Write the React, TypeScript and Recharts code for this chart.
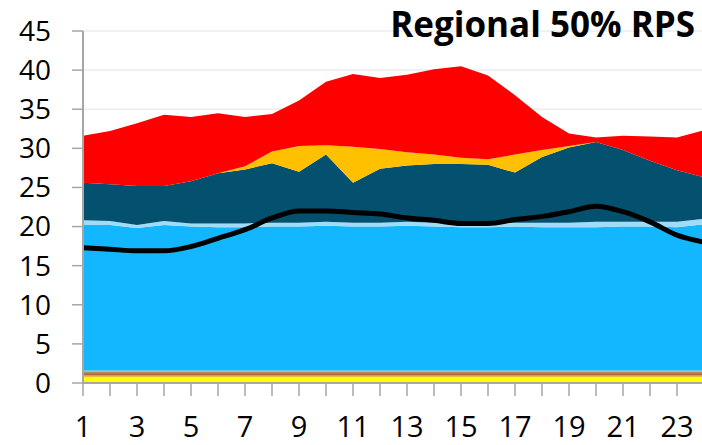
import React from 'react';
import { ComposedChart, Area, Line, XAxis, YAxis, CartesianGrid } from 'recharts';

const hours = [1, 2, 3, 4, 5, 6, 7, 8, 9, 10, 11, 12, 13, 14, 15, 16, 17, 18, 19, 20, 21, 22, 23, 24];
const xLabels = ['1', '', '3', '', '5', '', '7', '', '9', '', '11', '', '13', '', '15', '', '17', '', '19', '', '21', '', '23', ''];
const yTicks = [0, 5, 10, 15, 20, 25, 30, 35, 40, 45];

const yellowBand = [0.8, 0.8, 0.8, 0.8, 0.8, 0.8, 0.8, 0.8, 0.8, 0.8, 0.8, 0.8, 0.8, 0.8, 0.8, 0.8, 0.8, 0.8, 0.8, 0.8, 0.8, 0.8, 0.8, 0.8];
const ochreBand = [0.25, 0.25, 0.25, 0.25, 0.25, 0.25, 0.25, 0.25, 0.25, 0.25, 0.25, 0.25, 0.25, 0.25, 0.25, 0.25, 0.25, 0.25, 0.25, 0.25, 0.25, 0.25, 0.25, 0.25];
const brownBand = [0.2, 0.2, 0.2, 0.2, 0.2, 0.2, 0.2, 0.2, 0.2, 0.2, 0.2, 0.2, 0.2, 0.2, 0.2, 0.2, 0.2, 0.2, 0.2, 0.2, 0.2, 0.2, 0.2, 0.2];
const tanBand = [0.2, 0.2, 0.2, 0.2, 0.2, 0.2, 0.2, 0.2, 0.2, 0.2, 0.2, 0.2, 0.2, 0.2, 0.2, 0.2, 0.2, 0.2, 0.2, 0.2, 0.2, 0.2, 0.2, 0.2];
const greenBand = [0.15, 0.15, 0.15, 0.15, 0.15, 0.15, 0.15, 0.15, 0.15, 0.15, 0.15, 0.15, 0.15, 0.15, 0.15, 0.15, 0.15, 0.15, 0.15, 0.15, 0.15, 0.15, 0.15, 0.15];
const lightBlue = [18.6, 18.6, 18.2, 18.6, 18.4, 18.3, 18.3, 18.4, 18.4, 18.5, 18.4, 18.4, 18.5, 18.4, 18.3, 18.3, 18.4, 18.3, 18.3, 18.3, 18.4, 18.4, 18.3, 18.7];
const paleBlue = [0.6, 0.5, 0.4, 0.5, 0.4, 0.5, 0.5, 0.5, 0.5, 0.5, 0.5, 0.5, 0.5, 0.5, 0.5, 0.5, 0.5, 0.6, 0.6, 0.7, 0.6, 0.6, 0.7, 0.7];
const darkTeal = [4.8, 4.7, 5.0, 4.5, 5.4, 6.4, 6.9, 7.6, 6.5, 8.6, 5.1, 6.9, 7.2, 7.5, 7.6, 7.5, 6.4, 8.4, 9.6, 10.2, 9.2, 7.8, 6.6, 5.3];
const gold = [0, 0, 0, 0, 0, 0, 0.4, 1.5, 3.3, 1.2, 4.6, 2.5, 1.7, 1.2, 0.8, 0.7, 2.3, 0.9, 0.2, 0, 0, 0, 0, 0];
const red = [6.0, 6.8, 8.0, 9.1, 8.2, 7.7, 6.3, 4.8, 5.8, 8.1, 9.3, 9.1, 9.9, 10.9, 11.7, 10.7, 7.6, 4.2, 1.6, 0.6, 1.8, 3.1, 4.2, 6.0];
const load = [17.3, 17.1, 16.9, 16.9, 17.45, 18.5, 19.6, 21.1, 22.0, 22.0, 21.8, 21.6, 21.1, 20.8, 20.4, 20.4, 20.9, 21.3, 21.9, 22.6, 21.9, 20.6, 18.9, 18.0];

const data = hours.map((h, i) => ({
  hour: h,
  yellowBand: yellowBand[i],
  ochreBand: ochreBand[i],
  brownBand: brownBand[i],
  tanBand: tanBand[i],
  greenBand: greenBand[i],
  lightBlue: lightBlue[i],
  paleBlue: paleBlue[i],
  darkTeal: darkTeal[i],
  gold: gold[i],
  red: red[i],
  load: load[i],
}));

const areas: [string, string][] = [
  ['yellowBand', '#ffff00'],
  ['ochreBand', '#e2a21c'],
  ['brownBand', '#9b3c1e'],
  ['tanBand', '#b98c5c'],
  ['greenBand', '#8fb38c'],
  ['lightBlue', '#12b7ff'],
  ['paleBlue', '#a0dcf8'],
  ['darkTeal', '#03506f'],
  ['gold', '#ffc000'],
  ['red', '#ff0000'],
];

const FONT = "'Open Sans', sans-serif";

export default function App() {
  return (
    <div style={{ position: 'absolute', left: 0, top: 0, width: 702, height: 445, overflow: 'hidden', background: '#fff' }}>
      <ComposedChart
        width={706}
        height={445}
        data={data}
        margin={{ top: 31, right: 2, bottom: 0, left: 0 }}
        style={{ fontFamily: FONT }}
      >
        <CartesianGrid horizontal vertical={false} stroke="#ececec" strokeWidth={1.5} />
        {areas.map(([key, color]) => (
          <Area
            key={key}
            dataKey={key}
            stackId="1"
            type="linear"
            stroke="none"
            fill={color}
            fillOpacity={1}
            isAnimationActive={false}
          />
        ))}
        <Line
          dataKey="load"
          type="monotone"
          stroke="#000000"
          strokeWidth={5}
          dot={false}
          isAnimationActive={false}
        />
        <XAxis
          dataKey="hour"
          scale="point"
          interval={0}
          height={62}
          tickSize={13}
          tickMargin={20}
          tickFormatter={(_v: any, i: number) => xLabels[i]}
          axisLine={{ stroke: '#a6a6a6', strokeWidth: 2 }}
          tickLine={{ stroke: '#a6a6a6', strokeWidth: 1.5 }}
          tick={{ fontSize: 29, fill: '#000', fontFamily: FONT }}
        />
        <YAxis
          type="number"
          domain={[0, 45]}
          ticks={yTicks}
          interval={0}
          width={83}
          tickSize={11}
          tickMargin={21}
          axisLine={{ stroke: '#a6a6a6', strokeWidth: 2 }}
          tickLine={{ stroke: '#a6a6a6', strokeWidth: 1.5 }}
          tick={{ fontSize: 28, fill: '#000', fontFamily: FONT }}
        />
      </ComposedChart>
      <svg width={702} height={60} style={{ position: 'absolute', left: 0, top: 0, pointerEvents: 'none' }}>
        <text x={695} y={37} textAnchor="end" fontFamily={FONT} fontWeight={700} fontSize={35} fill="#000">
          Regional 50% RPS
        </text>
      </svg>
    </div>
  );
}
